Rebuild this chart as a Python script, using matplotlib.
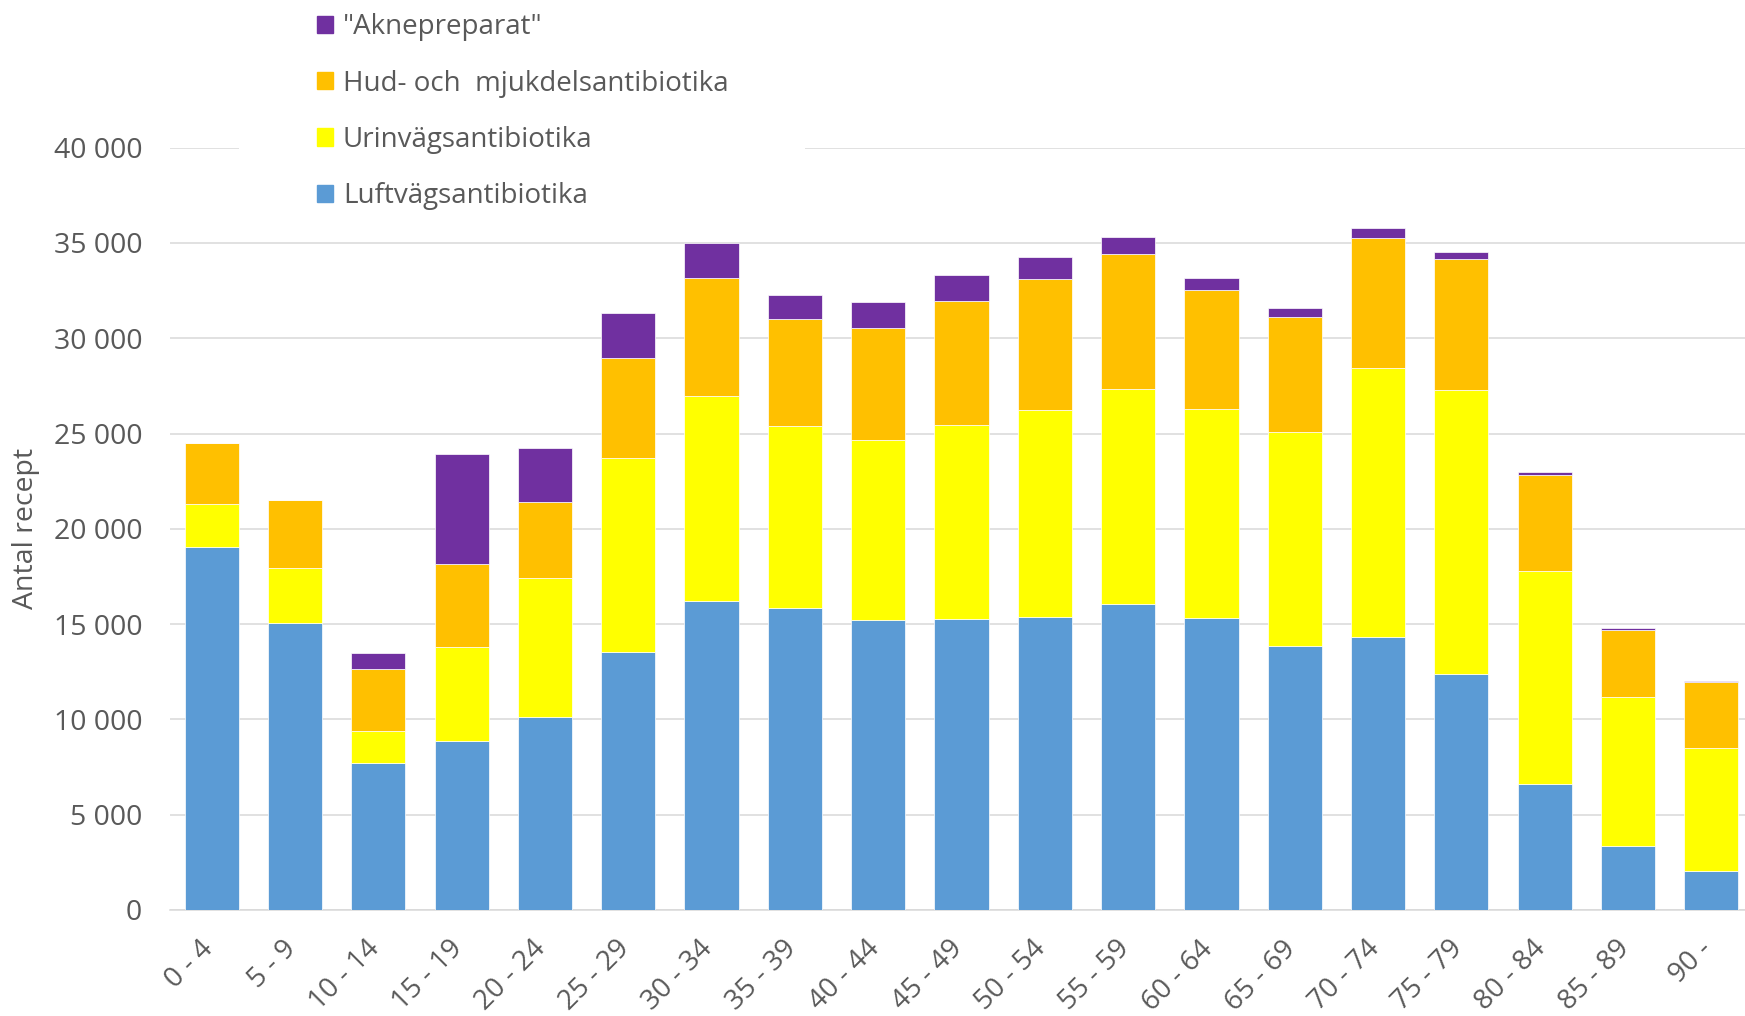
import matplotlib.pyplot as plt
import matplotlib.patches as mpatches
import matplotlib.transforms as mtransforms
from matplotlib.ticker import FuncFormatter, MultipleLocator

# Åldersgrupper och antal recept per grupp av antibiotika
aldrar = ['0 - 4', '5 - 9', '10 - 14', '15 - 19', '20 - 24', '25 - 29', '30 - 34',
          '35 - 39', '40 - 44', '45 - 49', '50 - 54', '55 - 59', '60 - 64',
          '65 - 69', '70 - 74', '75 - 79', '80 - 84', '85 - 89', '90 -']
luftvag = [19050, 15080, 7730, 8870, 10120, 13520, 16220, 15860, 15230, 15260,
           15390, 16080, 15300, 13840, 14320, 12390, 6620, 3360, 2070]
urinvag = [2250, 2880, 1650, 4950, 7310, 10220, 10770, 9510, 9410, 10160,
           10820, 11240, 10960, 11240, 14130, 14890, 11190, 7830, 6450]
hud = [3180, 3540, 3280, 4350, 3960, 5230, 6170, 5640, 5870, 6510,
       6920, 7090, 6270, 6010, 6830, 6860, 5000, 3500, 3460]
akne = [10, 20, 800, 5740, 2830, 2350, 1850, 1250, 1380, 1360,
        1130, 910, 650, 510, 490, 370, 160, 80, 40]

serier = [
    ('Luftvägsantibiotika', luftvag, '#5B9BD5'),
    ('Urinvägsantibiotika', urinvag, '#FFFF00'),
    ('Hud- och  mjukdelsantibiotika', hud, '#FFC000'),
    ('"Aknepreparat"', akne, '#7030A0'),
]

plt.rcParams['font.family'] = ['Open Sans', 'DejaVu Sans']
grå = '#595959'

fig = plt.figure(figsize=(17.45, 10.16), dpi=100)
ax = fig.add_axes([170 / 1745, 106 / 1016, 1583 / 1745, 762.4 / 1016])

x = list(range(len(aldrar)))
botten = [0] * len(aldrar)
for namn, varden, farg in serier:
    ax.bar(x, varden, width=0.65, bottom=botten, color=farg, label=namn,
           edgecolor='white', linewidth=0.5, zorder=3)
    botten = [a + v for a, v in zip(botten, varden)]

ax.set_xlim(-0.5, len(aldrar) - 0.5)
ax.set_ylim(0, 40000)
ax.yaxis.set_major_locator(MultipleLocator(5000))
ax.yaxis.set_major_formatter(FuncFormatter(lambda v, p: f'{int(v):,}'.replace(',', ' ')))
ax.grid(axis='y', color='#d9d9d9', linewidth=1.1, zorder=0)
ax.set_axisbelow(True)

for s in ['left', 'right', 'top']:
    ax.spines[s].set_visible(False)
ax.spines['bottom'].set_color('#d9d9d9')
ax.spines['bottom'].set_linewidth(1.1)

ax.set_xticks(x)
ax.set_xticklabels(aldrar, rotation=45, ha='right', va='top')
ax.tick_params(axis='x', length=0, pad=16, labelsize=20, labelcolor=grå)
ax.tick_params(axis='y', length=0, pad=20, labelsize=20.5, labelcolor=grå)
ax.set_ylabel('Antal recept', fontsize=20.5, color=grå, labelpad=10)

# flytta etiketterna lite åt höger, som i Excel
forskjut = mtransforms.ScaledTranslation(5 / 72, -2 / 72, fig.dpi_scale_trans)
for lbl in ax.get_xticklabels():
    lbl.set_transform(lbl.get_transform() + forskjut)

# vit bakgrund bakom legenden (bryter 40 000-linjen som i originalet)
fig.patches.append(mpatches.Rectangle((239 / 1745, 0.83), 566 / 1745, 0.05,
                                      transform=fig.transFigure, facecolor='white',
                                      edgecolor='none', zorder=2))

handles = [mpatches.Patch(color=f) for _, _, f in serier][::-1]
labels = [n for n, _, _ in serier][::-1]
fig.legend(handles, labels, loc='upper left', bbox_to_anchor=(317 / 1745, 0.987),
           frameon=False, fontsize=20, labelcolor=grå, handlelength=0.58,
           handleheight=0.58, handletextpad=0.35, labelspacing=1.02,
           borderpad=0, borderaxespad=0)

fig.savefig('out.png', dpi=100)
